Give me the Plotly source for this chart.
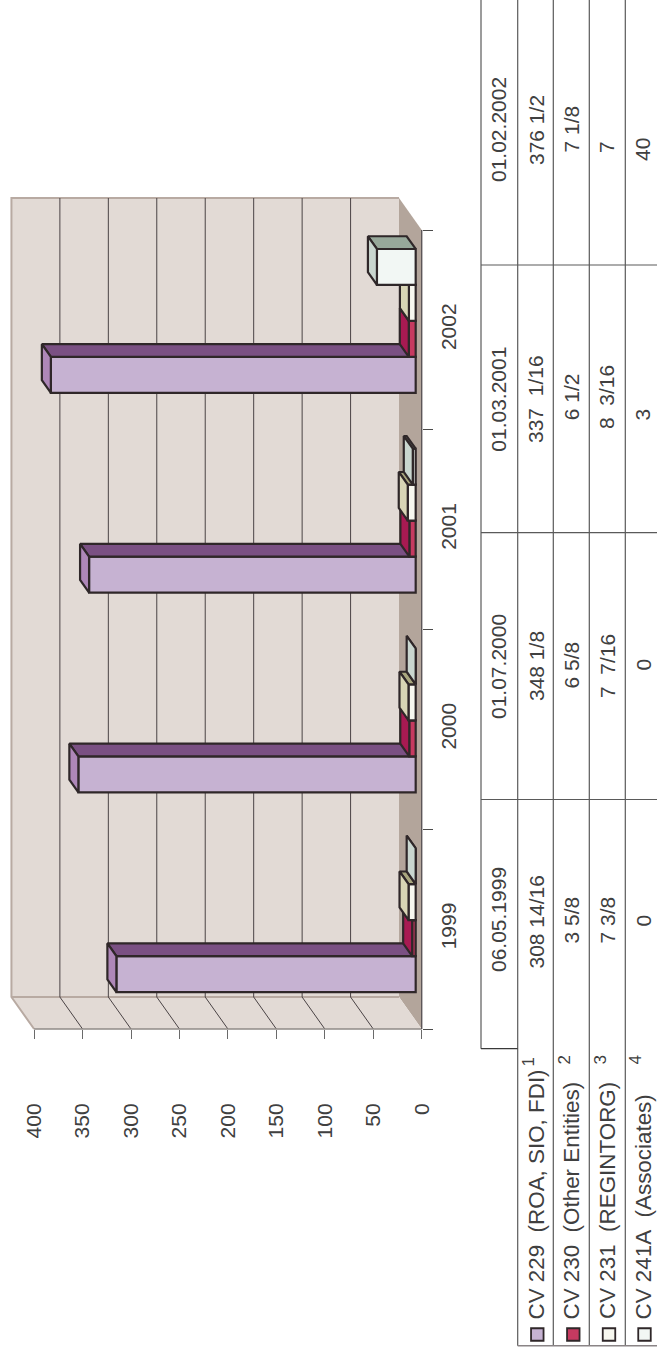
import plotly.graph_objects as go

# ---------- data ----------
years = ["1999", "2000", "2001", "2002"]
series_names = ["CV 229", "CV 230", "CV 231", "CV 241A"]
cv229 = [308.875, 348.125, 337.0625, 376.5]
cv230 = [3.625, 6.625, 6.5, 7.125]
cv231 = [7.375, 7.4375, 8.1875, 7.0]
cv241a = [0, 0, 3, 40]
value_ticks = [0, 50, 100, 150, 200, 250, 300, 350, 400]

table_dates = ["06.05.1999", "01.07.2000", "01.03.2001", "01.02.2002"]
table_cv229 = ["308 14/16", "348 1/8", "337\u00a0\u00a01/16", "376 1/2"]
table_cv230 = ["3 5/8", "6 5/8", "6 1/2", "7 1/8"]
table_cv231 = ["7 3/8", "7\u00a0\u00a07/16", "8\u00a0\u00a03/16", "7"]
table_cv241a = ["0", "0", "3", "40"]
legend_labels = ["CV 229\u00a0\u00a0(ROA, SIO, FDI)", "CV 230\u00a0\u00a0(Other Entities)",
                 "CV 231\u00a0\u00a0(REGINTORG)", "CV 241A\u00a0\u00a0(Associates)"]
footnotes = ["1", "2", "3", "4"]

# ---------- geometry / style ----------
W, H = 657, 1351
X0, PPU = 421.7, 0.969       # page x of value 0, pixels per value unit
Y0, PPC = 1029.0, 199.75     # page y of category edge 0, pixels per category
XR = [X0 / PPU, (X0 - W) / PPU]
YR = [(Y0 - H) / PPC, Y0 / PPC]

WALL_DV, WALL_DC = 23.4, 0.16      # depth of the box
BAR_DV, BAR_DC = 9.3, 0.0636       # depth of each bar
BAR_BASE = 6.2                     # bar front sits this far inside the floor
BAR_W = 0.18
GROUP_SHIFT = 0.045
INK = "#2f2729"
TXT = "#404040"
FONT = "Liberation Sans"
FS = 21
LW = 2.2

front = ["#c6b2d2", "#c63a60", "#f7f7ef", "#f2f7f4"]
top = ["#7a5083", "#7d1a45", "#a9a67e", "#97a89a"]
end = ["#ae87b8", "#a81a52", "#d8d5b5", "#c9d6cf"]
series = [cv229, cv230, cv231, cv241a]

fig = go.Figure()


def poly(xs, ys, fill, line=None, lw=0, xa="x", ya="y"):
    fig.add_trace(go.Scatter(
        x=xs + xs[:1], y=ys + ys[:1], mode="lines", fill="toself", fillcolor=fill,
        line=dict(color=line or fill, width=lw), hoverinfo="skip", showlegend=False,
        xaxis=xa, yaxis=ya))


def seg(xs, ys, color, lw=1.0):
    fig.add_trace(go.Scatter(x=xs, y=ys, mode="lines", line=dict(color=color, width=lw),
                             hoverinfo="skip", showlegend=False, xaxis="x", yaxis="y"))


n = len(years)
wall_top = n + WALL_DC
BORDER = "#b8aaa2"
# back wall, floor strip, side wall
poly([WALL_DV, WALL_DV + 400, WALL_DV + 400, WALL_DV], [WALL_DC, WALL_DC, wall_top, wall_top], "#e2dad5")
poly([0, WALL_DV, WALL_DV, 0], [0, WALL_DC, wall_top, n], "#b3a59b")
poly([0, 400, WALL_DV + 400, WALL_DV], [0, 0, WALL_DC, WALL_DC], "#e2dad5")
seg([WALL_DV, WALL_DV + 400, WALL_DV + 400, 400], [wall_top, wall_top, WALL_DC, 0], BORDER, 2)
seg([WALL_DV + 400, WALL_DV], [WALL_DC, WALL_DC], BORDER, 2)
for t in value_ticks[1:-1]:
    seg([t + WALL_DV, t + WALL_DV, t], [wall_top, WALL_DC, 0], "#4a4345", 1)
seg([0, 400], [0, 0], "#8f8a86", 1.4)
seg([0, 0], [0, n], "#5c5658", 1.4)

# bars: each series on its own overlaid axes, later series painted over earlier ones
for i in range(4):
    idx = i + 2
    xa, ya = f"x{idx}", f"y{idx}"
    vals = series[i]
    pos = [c + 0.5 + GROUP_SHIFT + (i - 1.5) * BAR_W for c in range(n)]
    fig.add_trace(go.Bar(
        x=vals, y=pos, base=[BAR_BASE] * n, width=BAR_W, orientation="h",
        marker=dict(color=front[i], line=dict(color=INK, width=LW)),
        name=series_names[i], showlegend=False, xaxis=xa, yaxis=ya))
    for v, p in zip(vals, pos):
        x_a, x_b = BAR_BASE, BAR_BASE + v
        lo, hi = p - BAR_W / 2, p + BAR_W / 2
        poly([x_a, x_b, x_b + BAR_DV, x_a + BAR_DV], [hi, hi, hi + BAR_DC, hi + BAR_DC],
             top[i], INK, LW, xa, ya)
        poly([x_b, x_b, x_b + BAR_DV, x_b + BAR_DV], [lo, hi, hi + BAR_DC, lo + BAR_DC],
             end[i], INK, LW, xa, ya)

# ---------- table ----------
vlines_px = [481, 517.7, 553.3, 589.3, 625.3]
hlines_px = [265, 532.7, 799.5]
shapes = []


def line(x1, y1, x2, y2, color="#5a5a5a", w=1.2):
    shapes.append(dict(type="line", xref="paper", yref="paper", x0=x1 / W, x1=x2 / W,
                       y0=1 - y1 / H, y1=1 - y2 / H, line=dict(color=color, width=w)))


line(vlines_px[0], 0, vlines_px[0], 1048.7)
for vx in vlines_px[1:]:
    line(vx, 0, vx, 1345.7)
for hy in hlines_px:
    line(vlines_px[0], hy, W, hy)
line(vlines_px[0], 1048.7, vlines_px[1], 1048.7, "#3a3a3a")
line(vlines_px[1], 1345.7, W, 1345.7, "#8a8486", 1.6)

column_x_px = [498.5, 536, 571, 607, 642.5]
cell_bottom_px = [
    [973, 720, 452.7, 183],
    [970, 702, 444, 166],
    [945, 690, 421.7, 154],
    [945, 699, 430, 154],
    [928, 672, 422, 162],
]
table = [table_dates, table_cv229, table_cv230, table_cv231, table_cv241a]
ann = []


def rot(text, x_px, y_px, size=FS, yanchor="bottom"):
    ann.append(dict(text=text, xref="paper", yref="paper", x=x_px / W, y=1 - y_px / H,
                    xanchor="center", yanchor=yanchor, textangle=-90, showarrow=False,
                    borderpad=0, font=dict(family=FONT, size=size, color=TXT)))


for col, bottoms, cx in zip(table, cell_bottom_px, column_x_px):
    for txt, b in zip(col, bottoms):
        rot(txt, cx, b)

legend_x_px = [536, 571, 607, 642.5]
for lab, lx in zip(legend_labels, legend_x_px):
    rot(lab, lx, 1320.5, 22.4)
foot_x_px = [528, 564, 600, 635]
foot_y_px = [1068, 1066, 1066, 1066]
for f, fx, fy in zip(footnotes, foot_x_px, foot_y_px):
    rot(f, fx, fy, 17)

# legend keys
key_x_px = [537.3, 573.3, 609, 644.5]
key_y_px = 1334.5
for kx, c in zip(key_x_px, front):
    fig.add_trace(go.Scatter(
        x=[(X0 - kx) / PPU], y=[(Y0 - key_y_px) / PPC], mode="markers",
        marker=dict(symbol="square", size=12.5, color=c, line=dict(color=INK, width=1.8)),
        hoverinfo="skip", showlegend=False, xaxis="x", yaxis="y"))

layout = dict(
    width=W, height=H, margin=dict(l=0, r=0, t=0, b=0), autosize=False,
    paper_bgcolor="white", plot_bgcolor="white", showlegend=False, barmode="overlay",
    shapes=shapes, annotations=ann,
    xaxis=dict(range=XR, domain=[0, 1], anchor="free", position=1 - Y0 / H, side="bottom",
               tickmode="array", tickvals=value_ticks, ticks="outside", ticklen=9, tickwidth=1,
               tickcolor="#6a6a6a", showgrid=False, zeroline=False, showline=False,
               tickangle=-90, ticklabelstandoff=56,
               tickfont=dict(family=FONT, size=FS, color=TXT)),
    yaxis=dict(range=YR, domain=[0, 1], anchor="free", position=X0 / W, side="right",
               tickmode="array", tickvals=[c + 0.5 for c in range(n)], ticktext=years,
               ticks="", showgrid=False, zeroline=False, showline=False,
               tickangle=-90, ticklabelstandoff=12,
               minor=dict(tickmode="array", tickvals=list(range(n + 1)), ticks="outside",
                          ticklen=10, tickwidth=1, tickcolor="#4a4a4a", showgrid=False),
               tickfont=dict(family=FONT, size=FS, color=TXT)),
)
for idx in range(2, 6):
    layout[f"xaxis{idx}"] = dict(range=XR, overlaying="x", visible=False, anchor=f"y{idx}")
    layout[f"yaxis{idx}"] = dict(range=YR, overlaying="y", visible=False, anchor=f"x{idx}")
fig.update_layout(**layout)

fig.write_html("out.html", config={"displayModeBar": False},
               post_script="document.body.style.margin='0';")
